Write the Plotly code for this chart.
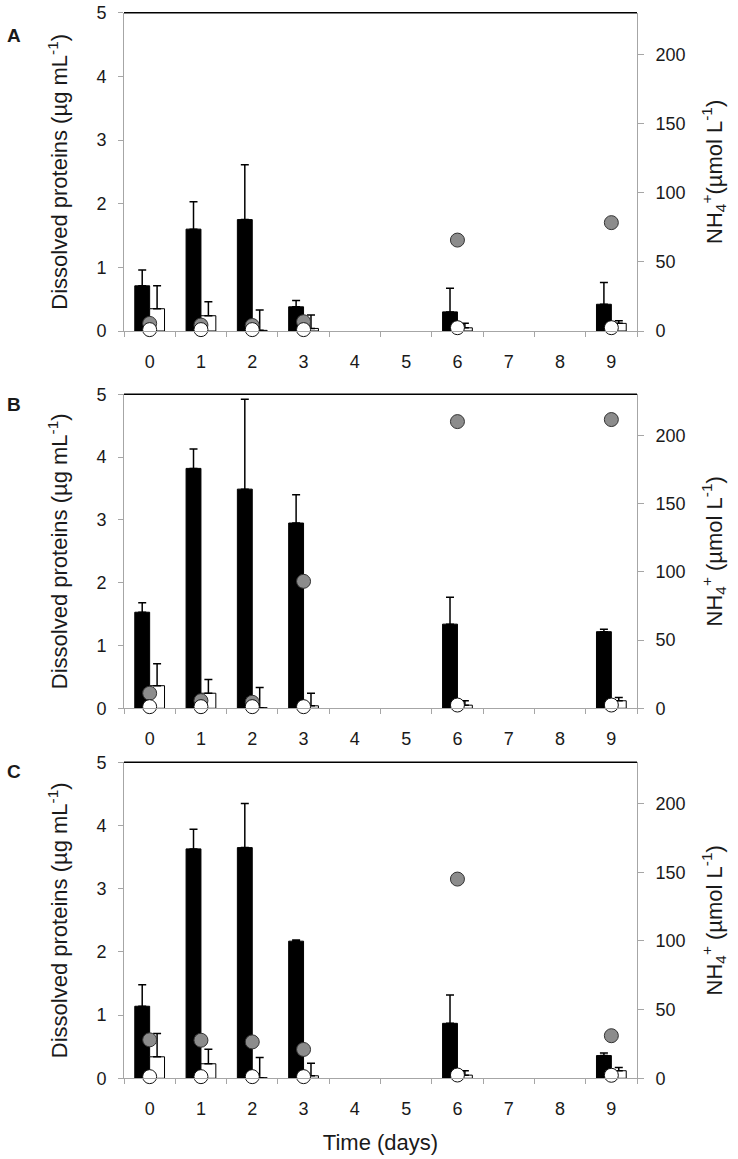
import plotly.graph_objects as go

# ---------------- data ----------------
days = [0, 1, 2, 3, 6, 9]
tick_vals = list(range(10))
tick_labels = [str(i) for i in range(10)]

# Panel A
a_black = [0.71, 1.60, 1.75, 0.38, 0.30, 0.42]
a_black_err = [0.25, 0.43, 0.86, 0.10, 0.37, 0.34]
a_white = [0.35, 0.24, 0.01, 0.04, 0.05, 0.12]
a_white_err = [0.36, 0.22, 0.32, 0.21, 0.07, 0.04]
a_gray_nh4 = [5.5, 4.3, 4.0, 6.7, 65.7, 78.3]
a_white_nh4 = [1.0, 1.0, 1.0, 1.0, 2.4, 2.4]

# Panel B
b_black = [1.53, 3.82, 3.49, 2.95, 1.34, 1.22]
b_black_err = [0.15, 0.31, 1.43, 0.45, 0.43, 0.04]
b_white = [0.36, 0.24, 0.01, 0.04, 0.05, 0.12]
b_white_err = [0.35, 0.22, 0.32, 0.20, 0.07, 0.05]
b_gray_nh4 = [11.0, 5.6, 4.4, 93.0, 210.0, 211.5]
b_white_nh4 = [1.2, 1.2, 1.2, 1.2, 2.4, 2.4]

# Panel C
c_black = [1.14, 3.63, 3.65, 2.17, 0.87, 0.36]
c_black_err = [0.34, 0.31, 0.70, 0.02, 0.45, 0.04]
c_white = [0.34, 0.23, 0.01, 0.04, 0.05, 0.12]
c_white_err = [0.37, 0.23, 0.32, 0.20, 0.07, 0.05]
c_gray_nh4 = [28.0, 27.7, 26.5, 21.0, 145.0, 31.0]
c_white_nh4 = [1.2, 1.2, 1.2, 1.2, 2.4, 2.2]

panels = [
    ("A", a_black, a_black_err, a_white, a_white_err, a_gray_nh4, a_white_nh4,
     "NH<sub>4</sub><sup>+</sup>(µmol L<sup>-1</sup>)"),
    ("B", b_black, b_black_err, b_white, b_white_err, b_gray_nh4, b_white_nh4,
     "NH<sub>4</sub><sup>+</sup> (µmol L<sup>-1</sup>)"),
    ("C", c_black, c_black_err, c_white, c_white_err, c_gray_nh4, c_white_nh4,
     "NH<sub>4</sub><sup>+</sup> (µmol L<sup>-1</sup>)"),
]

# ---------------- layout constants ----------------
W, H = 738, 1159
px_tops = [12.7, 394.3, 762.3]
px_bots = [331.0, 708.3, 1078.3]
ML, MR = 124, 101
BW = 0.29
FONT = "Liberation Sans, Arial, sans-serif"
AXC = "#a6a6a6"
TXT = "#1a1a1a"

fig = go.Figure()
layout = dict(
    width=W, height=H,
    margin=dict(l=ML, r=MR, t=0, b=0),
    paper_bgcolor="white", plot_bgcolor="white",
    showlegend=False,
    barmode="overlay",
    font=dict(family=FONT, size=18, color=TXT),
)
shapes = []
annotations = []

for i, (lab, blk, blk_e, wht, wht_e, gry, wnh, rtitle) in enumerate(panels):
    n = i + 1
    xa = "x" if n == 1 else f"x{n}"
    yl = f"y{2*n-1}" if n > 1 else "y"
    yr = f"y{2*n}"
    dom = [1 - px_bots[i] / H, 1 - px_tops[i] / H]

    fig.add_trace(go.Bar(
        x=days, y=blk, width=BW, offset=-BW, xaxis=xa, yaxis=yl,
        marker=dict(color="black", line=dict(color="black", width=1)),
        error_y=dict(type="data", symmetric=False, array=blk_e,
                     arrayminus=[0] * len(blk_e), color="black",
                     thickness=1.5, width=4),
    ))
    fig.add_trace(go.Bar(
        x=days, y=wht, width=BW, offset=0, xaxis=xa, yaxis=yl,
        marker=dict(color="white", line=dict(color="black", width=1)),
        error_y=dict(type="data", symmetric=False, array=wht_e,
                     arrayminus=[0] * len(wht_e), color="black",
                     thickness=1.5, width=4),
    ))
    fig.add_trace(go.Scatter(
        x=days, y=gry, mode="markers", xaxis=xa, yaxis=yr, cliponaxis=False,
        marker=dict(size=14, color="#8c8c8c", line=dict(color="#333333", width=1)),
    ))
    fig.add_trace(go.Scatter(
        x=days, y=wnh, mode="markers", xaxis=xa, yaxis=yr, cliponaxis=False,
        marker=dict(size=14, color="white", line=dict(color="#111111", width=1)),
    ))

    xkey = "xaxis" if n == 1 else f"xaxis{n}"
    ylkey = "yaxis" if n == 1 else f"yaxis{2*n-1}"
    yrkey = f"yaxis{2*n}"
    xdict = dict(
        domain=[0, 1], anchor=yl, range=[-0.5, 9.5],
        tickmode="array", tickvals=tick_vals, ticktext=tick_labels,
        ticks="", showline=True, linecolor=AXC, linewidth=1,
        showgrid=False, zeroline=False, automargin=False,
        ticklabelstandoff=14,
        tickfont=dict(size=18, color=TXT),
        minor=dict(tickmode="linear", tick0=-0.5, dtick=1, ticks="outside",
                   ticklen=5, tickcolor=AXC, tickwidth=1, showgrid=False),
    )
    if n == 3:
        xdict["title"] = dict(text="Time (days)", font=dict(size=22, color=TXT),
                              standoff=16)
    layout[xkey] = xdict
    layout[ylkey] = dict(
        domain=dom, anchor=xa, range=[0, 5], dtick=1, tick0=0,
        ticks="outside", ticklen=5, tickcolor=AXC, showline=True,
        linecolor=AXC, linewidth=1, showgrid=False, zeroline=False,
        automargin=False, ticklabelstandoff=8, ticklabeloverflow="allow",
        tickfont=dict(size=18, color=TXT),
        title=dict(text="Dissolved proteins (µg mL<sup>-1</sup>)",
                   font=dict(size=22, color=TXT), standoff=22),
    )
    layout[yrkey] = dict(
        overlaying=yl, side="right", anchor=xa, range=[0, 230],
        tickvals=[0, 50, 100, 150, 200], ticks="outside", ticklen=6,
        tickcolor=AXC, showline=True, linecolor=AXC, linewidth=1,
        showgrid=False, zeroline=False, automargin=False,
        ticklabelstandoff=8,
        tickfont=dict(size=18, color=TXT),
        title=dict(text=rtitle, font=dict(size=22, color=TXT), standoff=21),
    )
    shapes.append(dict(type="line", xref="paper", yref="paper", x0=0, x1=1,
                       y0=dom[1], y1=dom[1], line=dict(color="black", width=1.5)))

letter_y = [36, 404, 771]
for lab, ly in zip(["A", "B", "C"], letter_y):
    annotations.append(dict(text=f"<b>{lab}</b>", xref="paper", yref="paper",
                            x=(14 - ML) / (W - ML - MR), y=1 - ly / H,
                            showarrow=False, xanchor="center", yanchor="middle",
                            font=dict(size=19, color=TXT)))

layout["shapes"] = shapes
layout["annotations"] = annotations
fig.update_layout(**layout)
fig.write_html("out.html", config={"displayModeBar": False},
               post_script="document.body.style.margin='0';document.body.style.overflow='hidden';")
